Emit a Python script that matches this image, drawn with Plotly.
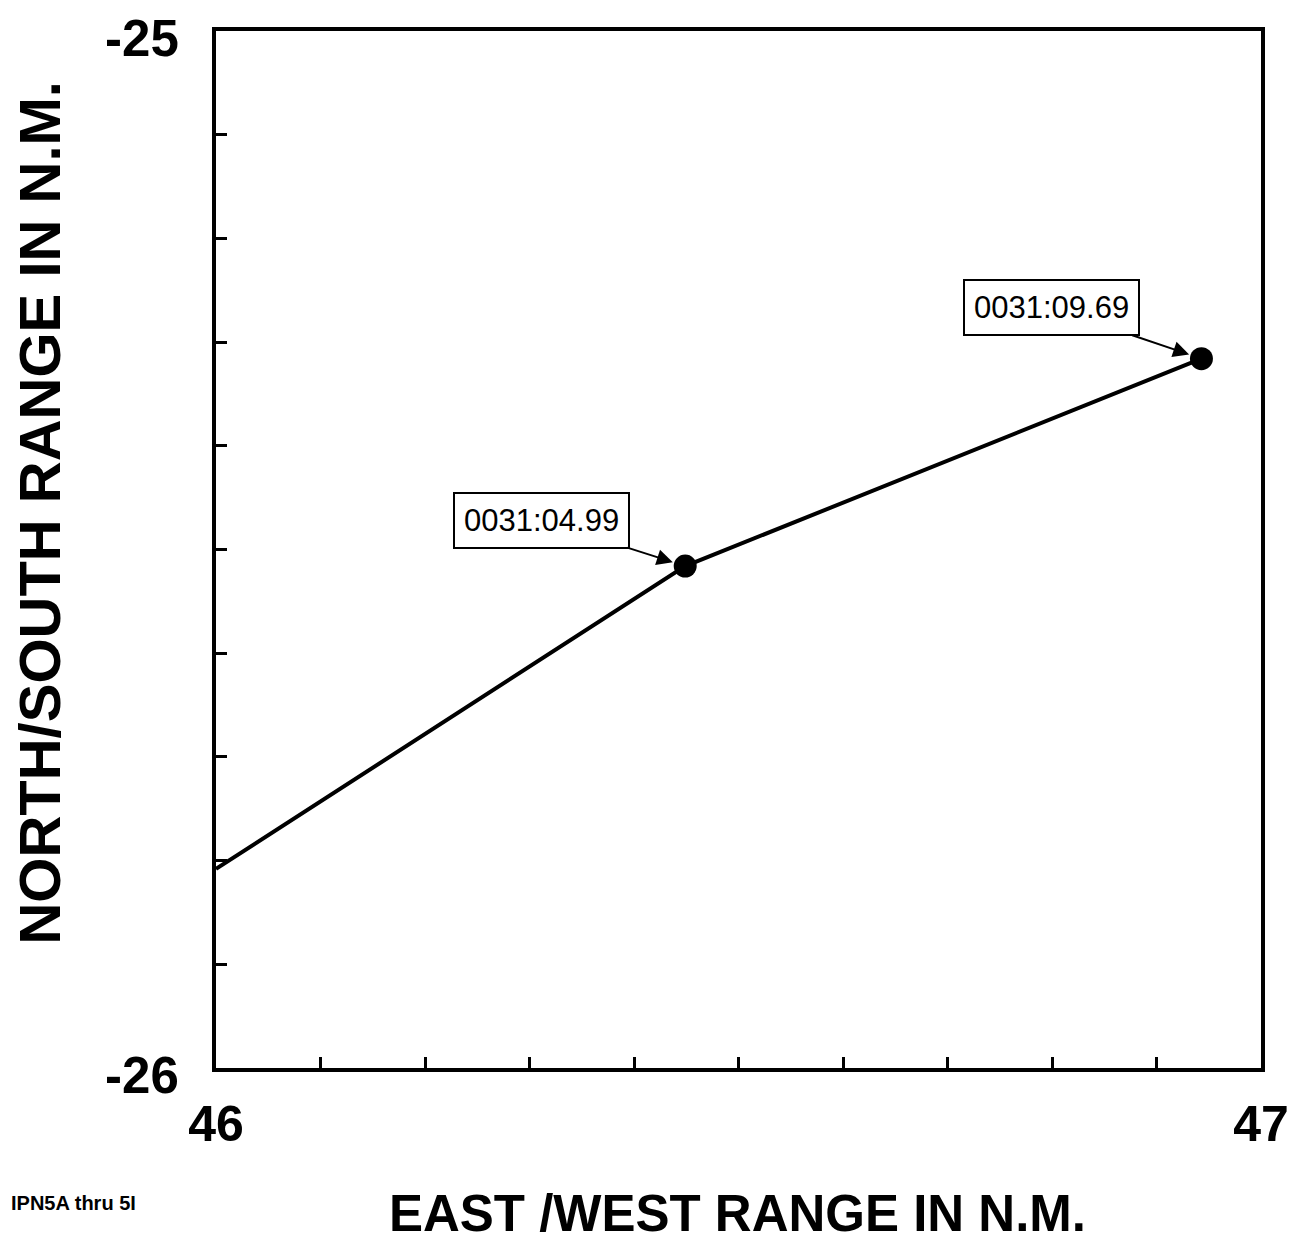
import plotly.graph_objects as go

# Data
track_x = [46.0, 46.449, 46.943]
track_y = [-25.808, -25.516, -25.316]
marked_x = [46.449, 46.943]
marked_y = [-25.516, -25.316]
marked_labels = ["0031:04.99", "0031:09.69"]

x_tickvals = [46.0, 46.1, 46.2, 46.3, 46.4, 46.5, 46.6, 46.7, 46.8, 46.9, 47.0]
x_ticktext = ["46", "", "", "", "", "", "", "", "", "", "47"]
y_tickvals = [-26.0, -25.9, -25.8, -25.7, -25.6, -25.5, -25.4, -25.3, -25.2, -25.1, -25.0]
y_ticktext = ["-26", "", "", "", "", "", "", "", "", "", "-25"]

FONT = "Arial, Liberation Sans, Helvetica, sans-serif"

fig = go.Figure()
fig.add_trace(go.Scatter(x=track_x, y=track_y, mode="lines",
                         line=dict(color="black", width=4), showlegend=False,
                         hoverinfo="skip"))
fig.add_trace(go.Scatter(x=marked_x, y=marked_y, mode="markers",
                         marker=dict(color="black", size=23), showlegend=False))

offsets = [(-144, -46), (-150, -51)]
for (xv, yv, lab, (ax, ay)) in zip(marked_x, marked_y, marked_labels, offsets):
    fig.add_annotation(x=xv, y=yv, xref="x", yref="y", text=lab,
                       showarrow=True, ax=ax, ay=ay, arrowhead=2, arrowsize=1.6,
                       arrowwidth=2, arrowcolor="black", standoff=13,
                       font=dict(family=FONT, size=31, color="black"),
                       bordercolor="black", borderwidth=2, borderpad=9,
                       bgcolor="white")

fig.add_annotation(text="NORTH/SOUTH RANGE IN N.M.", xref="paper", yref="paper",
                   x=-0.1684, y=0.5356, textangle=-90, showarrow=False,
                   xanchor="center", yanchor="middle",
                   font=dict(family=FONT, size=58, color="black", weight="bold"))
fig.add_annotation(text="EAST /WEST RANGE IN N.M.", xref="paper", yref="paper",
                   x=0.4986, y=-0.1404, showarrow=False,
                   xanchor="center", yanchor="middle",
                   font=dict(family=FONT, size=51, color="black", weight="bold"))
fig.add_annotation(text="IPN5A thru 5I", xref="paper", yref="paper",
                   x=-0.1985, y=-0.1298, showarrow=False,
                   xanchor="left", yanchor="middle",
                   font=dict(family=FONT, size=20, color="black", weight="bold"))

fig.update_xaxes(range=[46, 47], tickvals=x_tickvals, ticktext=x_ticktext,
                 ticks="inside", ticklen=11, tickwidth=3, tickcolor="black",
                 showline=True, linecolor="black", linewidth=4, mirror=True,
                 showgrid=False, zeroline=False, ticklabelstandoff=9,
                 automargin=False, ticklabeloverflow="allow",
                 tickfont=dict(family=FONT, size=50, color="black", weight="bold"))
fig.update_yaxes(range=[-26, -25], tickvals=y_tickvals, ticktext=y_ticktext,
                 ticks="inside", ticklen=11, tickwidth=3, tickcolor="black",
                 showline=True, linecolor="black", linewidth=4, mirror=True,
                 showgrid=False, zeroline=False, ticklabelstandoff=23,
                 ticklabelshift=7,
                 automargin=False, ticklabeloverflow="allow",
                 tickfont=dict(family=FONT, size=51, color="black", weight="bold"))

fig.update_layout(width=1297, height=1249, plot_bgcolor="white", paper_bgcolor="white",
                  margin=dict(l=208, r=44, t=23, b=189), showlegend=False)

fig.write_html("out.html")
